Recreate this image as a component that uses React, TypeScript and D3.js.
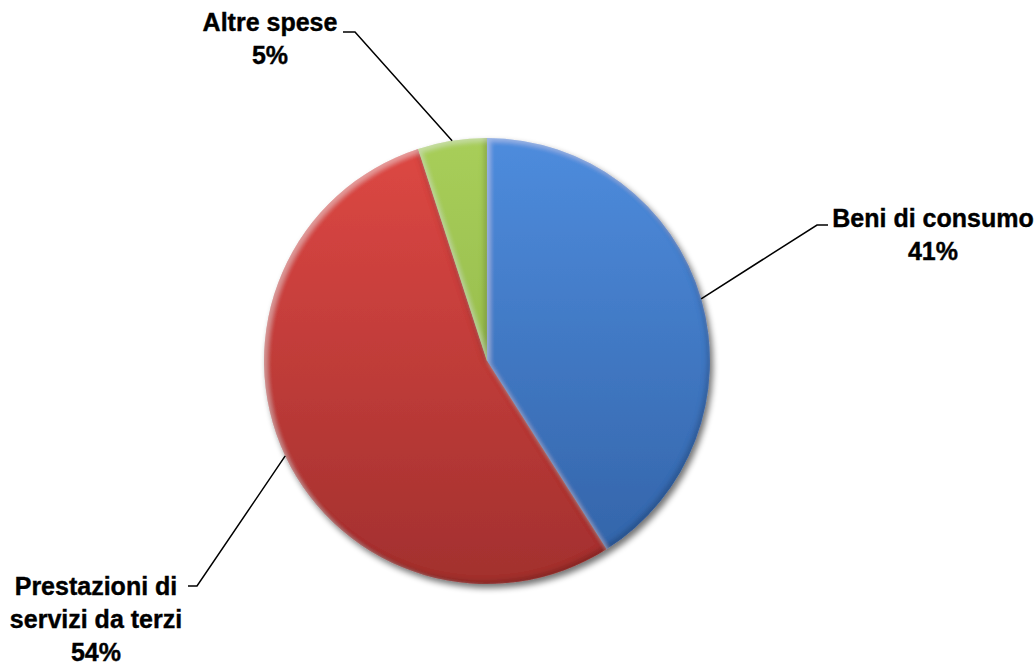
import React from "react";
import * as d3 from "d3";

const categories = ["Beni di consumo", "Prestazioni di servizi da terzi", "Altre spese"];
const values = [41, 54, 5];
const labelLines = [["Beni di consumo"], ["Prestazioni di", "servizi da terzi"], ["Altre spese"]];
const colorTop = ["#4e8cdd", "#de4844", "#a8ce5a"];
const colorBottom = ["#3262a6", "#a2302e", "#88ad40"];

// layout: label anchor (text center x, first baseline y) and leader elbow
const labelLayout = [
  { x: 933, y: 227, elbow: [817, 225], end: [828, 225] },
  { x: 96, y: 595, elbow: [197, 586], end: [188, 586] },
  { x: 270, y: 31, elbow: [355, 32], end: [343, 32] },
];

const W = 1036, H = 666;
const cx = 487, cy = 361, R = 223;

export default function App() {
  const pie = d3.pie<number>().sort(null).value((d) => d)(values);
  const arc = d3.arc<d3.PieArcDatum<number>>().innerRadius(0).outerRadius(R);
  const total = d3.sum(values);
  const fmt = d3.format(".0%");
  const font = "'Liberation Sans', Arial, sans-serif";

  return (
    <svg width={W} height={H} style={{ position: "absolute", left: 0, top: 0, background: "#fff" }}>
      <defs>
        {values.map((_, i) => (
          <linearGradient key={i} id={`g${i}`} gradientUnits="userSpaceOnUse" x1={0} y1={-R} x2={0} y2={R}>
            <stop offset="0" stopColor={colorTop[i]} />
            <stop offset="1" stopColor={colorBottom[i]} />
          </linearGradient>
        ))}
        <filter id="shadow" x="-20%" y="-20%" width="140%" height="140%">
          <feGaussianBlur in="SourceAlpha" stdDeviation="3" />
          <feOffset dx="3" dy="4" result="ob" />
          <feComponentTransfer><feFuncA type="linear" slope="0.55" /></feComponentTransfer>
          <feMerge><feMergeNode /><feMergeNode in="SourceGraphic" /></feMerge>
        </filter>
        <filter id="bevel" x="-10%" y="-10%" width="120%" height="120%">
          <feGaussianBlur in="SourceAlpha" stdDeviation="2.5" result="blur" />
          <feOffset in="blur" dx="-3" dy="-3" result="offDark" />
          <feComposite in="SourceAlpha" in2="offDark" operator="out" result="innerDark" />
          <feFlood floodColor="#000" floodOpacity="0.35" />
          <feComposite in2="innerDark" operator="in" result="darkEdge" />
          <feOffset in="blur" dx="3" dy="3" result="offLight" />
          <feComposite in="SourceAlpha" in2="offLight" operator="out" result="innerLight" />
          <feFlood floodColor="#fff" floodOpacity="0.3" />
          <feComposite in2="innerLight" operator="in" result="lightEdge" />
          <feMerge>
            <feMergeNode in="SourceGraphic" />
            <feMergeNode in="darkEdge" />
            <feMergeNode in="lightEdge" />
          </feMerge>
        </filter>
      </defs>
      <g filter="url(#shadow)">
        <g transform={`translate(${cx},${cy})`}>
          {pie.map((p, i) => (
            <path key={i} d={arc(p) || ""} fill={`url(#g${i})`} filter="url(#bevel)" />
          ))}
        </g>
      </g>
      {pie.map((p, i) => {
        const mid = (p.startAngle + p.endAngle) / 2;
        const sx = cx + R * Math.sin(mid);
        const sy = cy - R * Math.cos(mid);
        const L = labelLayout[i];
        const lines = [...labelLines[i], fmt(values[i] / total)];
        return (
          <g key={`l${i}`}>
            <polyline points={`${sx},${sy} ${L.elbow[0]},${L.elbow[1]} ${L.end[0]},${L.end[1]}`} fill="none" stroke="#000" strokeWidth={1.5} />
            <text x={L.x} y={L.y} textAnchor="middle" fontFamily={font} fontWeight="bold" fontSize={25} fill="#000" stroke="#000" strokeWidth={0.4}>
              {lines.map((t, j) => (
                <tspan key={j} x={L.x} dy={j === 0 ? 0 : 33}>{t}</tspan>
              ))}
            </text>
          </g>
        );
      })}
    </svg>
  );
}
